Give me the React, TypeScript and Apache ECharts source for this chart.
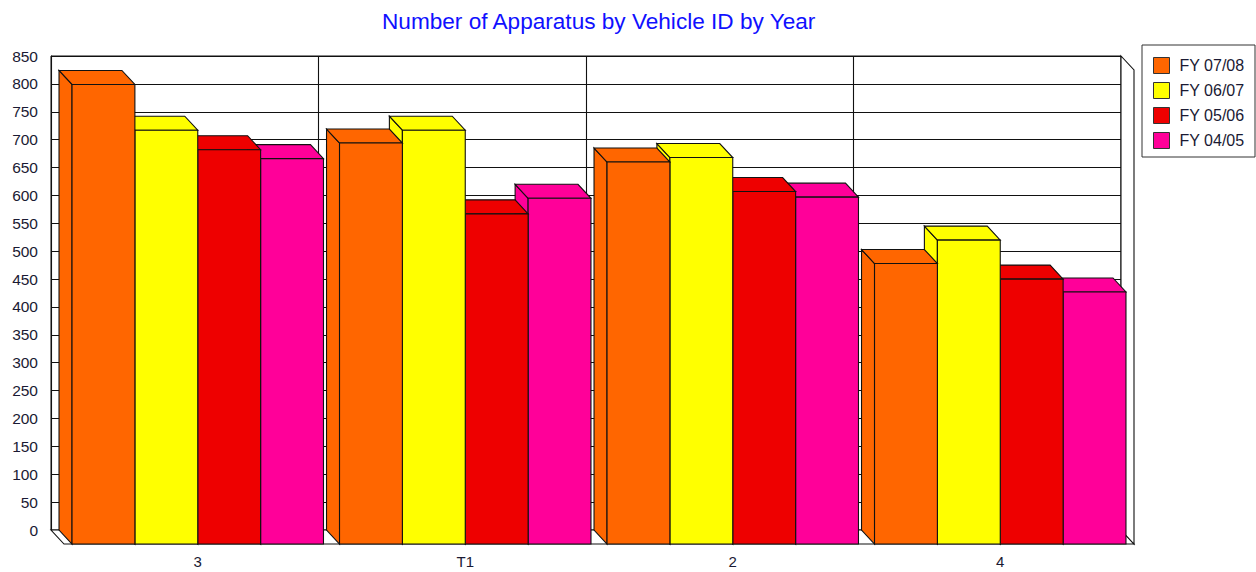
import React, { useEffect, useRef } from "react";
import * as echarts from "echarts";

const categories = ["3", "T1", "2", "4"];
const seriesNames = ["FY 07/08", "FY 06/07", "FY 05/06", "FY 04/05"];
const fy0708 = [824, 719, 685, 503];
const fy0607 = [742, 742, 693, 545];
const fy0506 = [707, 592, 632, 475];
const fy0405 = [691, 620, 622, 452];
const seriesColors = ["#FF6600", "#FFFF00", "#EE0000", "#FF0099"];
const yTicks = { min: 0, max: 850, interval: 50 };

const DX = 13;
const DY = 14;
const EDGE = "#111111";
const FONT = "'Liberation Sans', Arial, sans-serif";
const TEXT_COLOR = "#1a1a33";

function makeBarRender(s: number, count: number) {
  return (params: any, api: any) => {
    const cat = api.value(0);
    const val = api.value(1);
    const top = api.coord([cat, val]);
    const base = api.coord([cat, 0]);
    const catW = api.size([1, 0])[0];
    const groupW = catW * 0.94;
    const bw = groupW / count;
    const xb = top[0] - groupW / 2 + s * bw;
    const ytb = top[1];
    const ybb = base[1];
    const xf = xb + DX;
    const ytf = ytb + DY;
    const ybf = ybb + DY;
    const color = seriesColors[s];
    const st = { fill: color, stroke: EDGE, lineWidth: 1.1 };
    return {
      type: "group",
      children: [
        {
          type: "polygon",
          shape: { points: [[xb, ytb], [xf, ytf], [xf, ybf], [xb, ybb]] },
          style: st,
        },
        {
          type: "polygon",
          shape: { points: [[xb, ytb], [xb + bw, ytb], [xf + bw, ytf], [xf, ytf]] },
          style: st,
        },
        {
          type: "rect",
          shape: { x: xf, y: ytf, width: bw, height: ybf - ytf },
          style: st,
        },
      ],
    };
  };
}

function frameRender(params: any, api: any) {
  const catW = api.size([1, 0])[0];
  const first = api.coord([0, 0]);
  const last = api.coord([categories.length - 1, yTicks.max]);
  const L = first[0] - catW / 2;
  const R = last[0] + catW / 2;
  const B = first[1];
  const T = last[1];
  const st = { fill: "#fff", stroke: EDGE, lineWidth: 1.1 };
  return {
    type: "group",
    children: [
      {
        type: "polygon",
        shape: { points: [[L, B], [R, B], [R + DX, B + DY], [L + DX, B + DY]] },
        style: st,
      },
      {
        type: "polygon",
        shape: { points: [[R, T], [R + DX, T + DY], [R + DX, B + DY], [R, B]] },
        style: st,
      },
    ],
  };
}

export default function App() {
  const ref = useRef<HTMLDivElement>(null);
  useEffect(() => {
    if (!ref.current) return;
    const chart = echarts.init(ref.current, undefined, { renderer: "svg" });
    const dataSets = [fy0708, fy0607, fy0506, fy0405];
    const barSeries = dataSets.map((arr, s) => ({
      type: "custom",
      name: seriesNames[s],
      xAxisIndex: 0,
      yAxisIndex: 0,
      clip: false,
      z: 10 - s,
      itemStyle: { color: seriesColors[s] },
      renderItem: makeBarRender(s, dataSets.length),
      data: arr.map((v, i) => [i, v]),
    }));
    chart.setOption({
      animation: false,
      backgroundColor: "#fff",
      title: {
        text: "Number of Apparatus by Vehicle ID by Year",
        left: 377,
        top: 5,
        textStyle: { color: "#1010ff", fontSize: 22.6, fontWeight: "normal", fontFamily: FONT },
      },
      legend: {
        data: seriesNames,
        orient: "vertical",
        left: 1153,
        top: 57,
        padding: 0,
        itemWidth: 16,
        itemHeight: 16,
        itemGap: 8,
        icon: "rect",
        z: 10,
        itemStyle: { borderColor: "#333", borderWidth: 1 },
        textStyle: { color: TEXT_COLOR, fontSize: 16, fontFamily: FONT, padding: [0, 0, 0, 5] },
      },
      graphic: [
        {
          type: "rect",
          z: 1,
          shape: { x: 1142, y: 45, width: 113, height: 112 },
          style: { fill: "#fff", stroke: "#333", lineWidth: 1 },
        },
      ],
      grid: [
        {
          left: 51,
          top: 56,
          width: 1070,
          height: 474,
          show: true,
          borderColor: EDGE,
          borderWidth: 1,
          backgroundColor: "#fff",
        },
        { left: 51 + DX, top: 56 + DY, width: 1070, height: 474 },
      ],
      xAxis: [
        {
          type: "category",
          gridIndex: 0,
          data: categories,
          axisLine: { show: false },
          axisTick: { show: false },
          axisLabel: { show: false },
          splitLine: { show: true, lineStyle: { color: EDGE, width: 1.1 } },
        },
        {
          type: "category",
          gridIndex: 1,
          data: categories,
          axisLine: { show: false },
          axisTick: { show: false },
          axisLabel: { margin: 10, color: TEXT_COLOR, fontSize: 15, fontFamily: FONT },
          splitLine: { show: false },
        },
      ],
      yAxis: [
        {
          type: "value",
          gridIndex: 0,
          min: yTicks.min,
          max: yTicks.max,
          interval: yTicks.interval,
          axisLine: { show: true, lineStyle: { color: EDGE } },
          axisTick: { show: false },
          axisLabel: { margin: 13, color: TEXT_COLOR, fontSize: 15.5, fontFamily: FONT },
          splitLine: { show: true, lineStyle: { color: EDGE, width: 1.1 } },
        },
        {
          type: "value",
          gridIndex: 1,
          min: yTicks.min,
          max: yTicks.max,
          interval: yTicks.interval,
          show: false,
          splitLine: { show: false },
        },
      ],
      series: [
        {
          type: "custom",
          name: "frame",
          xAxisIndex: 0,
          yAxisIndex: 0,
          clip: false,
          z: 1,
          silent: true,
          renderItem: frameRender,
          data: [[0, 0]],
        },
        ...barSeries,
      ],
    });
    return () => chart.dispose();
  }, []);
  return (
    <div
      ref={ref}
      style={{ position: "fixed", left: 0, top: 0, width: 1256, height: 572 }}
    />
  );
}
